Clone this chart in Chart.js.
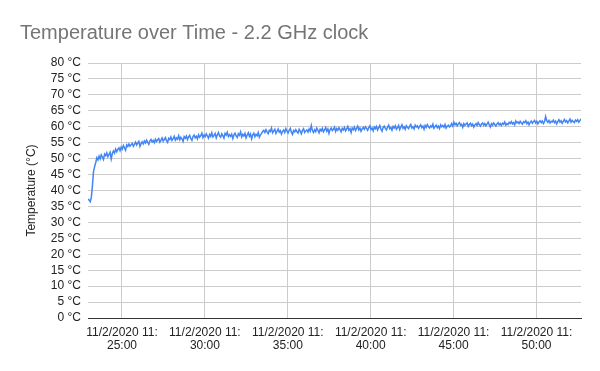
<!DOCTYPE html>
<html>
<head>
<meta charset="utf-8">
<script src="https://cdn.jsdelivr.net/npm/chart.js@4.4.0/dist/chart.umd.min.js"></script>
<style>
  html, body { margin: 0; padding: 0; background: #fff; }
</style>
</head>
<body>
<canvas id="tempChart" width="600" height="371"></canvas>
<script>
// samples: seconds past 11:00, one reading every 4 s
const startSeconds = 1377; // 11:22:57
const sampleStep = 4;
const temps = [
  37.3, 37.0, 36.5, 37.8, 41.5, 46.0, 47.5, 48.8, 50.3, 49.6,
  50.8, 49.9, 51.2, 50.5, 49.7, 51.4, 50.9, 51.8, 50.6, 51.3,
  52.0, 49.9, 51.6, 52.4, 51.7, 53.0, 52.2, 52.9, 53.4, 52.5,
  53.6, 53.0, 54.1, 53.4, 52.6, 54.3, 53.8, 54.6, 53.9, 54.4,
  54.8, 53.9, 54.5, 55.2, 54.3, 54.9, 55.4, 53.8, 54.7, 55.3,
  54.6, 55.5, 54.9, 55.8, 55.1, 54.5, 55.6, 56.0, 55.2, 55.7,
  55.0, 56.1, 55.4, 55.9, 56.3, 55.2, 55.8, 56.5, 55.5, 56.0,
  56.6, 55.6, 55.1, 56.4, 56.0, 56.8, 55.7, 56.3, 57.0, 55.8,
  56.5, 56.1, 57.2, 55.9, 56.7, 56.2, 55.4, 56.9, 56.4, 57.1,
  56.0, 56.8, 57.3, 56.3, 55.7, 56.9, 57.4, 56.5, 57.0, 56.2,
  57.5, 56.7, 57.2, 58.0, 56.6, 57.4, 56.9, 57.8, 57.1, 56.4,
  57.6, 57.0, 58.1, 56.8, 57.3, 57.9, 56.5, 57.5, 58.2, 57.1,
  56.7, 57.8, 57.2, 56.4, 57.9, 57.4, 58.3, 56.9, 57.5, 57.0,
  57.7, 56.3, 57.4, 58.0, 57.1, 56.6, 57.8, 57.3, 58.4, 56.8,
  57.6, 57.1, 57.9, 56.5, 57.4, 58.1, 57.0, 57.7, 56.2, 57.5,
  58.0, 56.9, 57.6, 57.2, 58.2, 56.7, 57.4, 57.9, 58.5, 58.9,
  58.2, 59.1, 58.4, 57.8, 58.9, 58.5, 59.6, 58.1, 58.7, 59.2,
  57.9, 58.6, 59.3, 58.3, 58.8, 57.7, 58.5, 59.0, 58.2, 59.4,
  58.6, 58.0, 58.9, 59.5, 58.3, 57.6, 58.8, 58.4, 59.1, 58.5,
  58.0, 59.2, 58.6, 57.8, 58.9, 59.4, 58.2, 58.7, 59.0, 58.3,
  59.3, 58.6, 60.4, 58.8, 58.2, 59.1, 58.5, 59.6, 58.9, 58.1,
  59.2, 58.7, 59.5, 58.4, 59.0, 59.8, 58.6, 59.3, 57.9, 59.1,
  59.6, 58.8, 59.2, 59.9, 58.5, 59.4, 58.9, 59.7, 59.1, 58.4,
  59.5, 59.0, 59.8, 58.7, 59.3, 60.1, 58.9, 59.4, 58.2, 59.6,
  59.1, 59.9, 58.8, 59.5, 60.2, 59.0, 59.6, 58.6, 59.3, 59.8,
  59.2, 60.0, 59.5, 58.9, 59.7, 60.3, 59.1, 59.6, 58.7, 59.9,
  59.4, 60.1, 59.0, 59.7, 60.4, 59.3, 58.6, 59.8, 60.2, 59.5,
  59.0, 59.9, 60.5, 59.4, 59.8, 58.9, 60.1, 59.6, 60.3, 59.2,
  59.7, 60.4, 59.1, 59.9, 60.6, 59.5, 60.0, 59.2, 60.3, 59.8,
  59.4, 60.2, 60.7, 59.6, 60.0, 59.3, 60.5, 59.9, 60.3, 59.5,
  60.1, 60.6, 59.7, 60.2, 59.2, 60.4, 59.8, 60.7, 60.0, 59.6,
  60.3, 59.9, 60.8, 59.5, 60.1, 60.5, 59.7, 60.2, 59.4, 60.6,
  60.0, 60.4, 59.8, 60.7, 59.6, 60.2, 60.5, 59.9, 60.3, 61.0,
  60.2, 61.4, 60.6, 61.1, 60.3, 60.9, 61.3, 60.5, 60.8, 59.8,
  61.0, 60.4, 60.9, 61.2, 60.1, 60.7, 61.1, 60.3, 60.8, 59.9,
  60.6, 61.0, 60.4, 61.3, 60.7, 60.2, 60.9, 61.2, 60.5, 61.0,
  60.3, 60.8, 61.4, 60.6, 59.9, 61.0, 60.5, 61.2, 60.7, 60.2,
  60.9, 61.3, 60.6, 61.0, 60.4, 61.1, 60.8, 61.5, 60.5, 61.0,
  60.7, 61.4, 61.0, 61.6, 60.9, 61.3, 60.6, 61.8, 61.2, 61.5,
  61.0, 61.7, 61.2, 60.8, 61.6, 61.3, 61.9, 61.0, 61.5, 60.6,
  61.4, 61.8, 61.1, 61.6, 62.0, 61.2, 61.7, 60.9, 61.5, 61.9,
  61.3, 61.8, 61.0, 61.6, 63.2, 61.9, 61.4, 62.0, 61.2, 61.7,
  61.5, 62.1, 61.3, 61.8, 60.9, 61.6, 62.2, 61.4, 61.9, 61.1,
  61.7, 62.3, 61.5, 61.9, 61.2, 61.8, 62.4, 61.4, 62.0, 61.6,
  61.3, 62.1, 61.7, 62.2, 61.4, 61.9, 62.5
];

// x ticks (seconds past 11:00) and their labels
const xTicks = [1500, 1800, 2100, 2400, 2700, 3000];
const xTickLabels = [
  ['11/2/2020 11:', '25:00'],
  ['11/2/2020 11:', '30:00'],
  ['11/2/2020 11:', '35:00'],
  ['11/2/2020 11:', '40:00'],
  ['11/2/2020 11:', '45:00'],
  ['11/2/2020 11:', '50:00']
];

const points = temps.map((t, i) => ({ x: startSeconds + i * sampleStep, y: t }));
const fontFamily = '"Liberation Sans", Arial, sans-serif';

new Chart(document.getElementById('tempChart'), {
  type: 'line',
  data: {
    datasets: [{
      label: 'Temperature',
      data: points,
      borderColor: '#4285F4',
      borderWidth: 1.5,
      pointRadius: 0,
      tension: 0,
      fill: false
    }]
  },
  options: {
    responsive: false,
    animation: false,
    layout: {
      padding: { left: 20, right: 19, top: 0, bottom: 0 }
    },
    plugins: {
      legend: { display: false },
      tooltip: { enabled: false },
      title: {
        display: true,
        text: 'Temperature over Time - 2.2 GHz clock',
        align: 'start',
        color: '#757575',
        font: { family: fontFamily, size: 20, weight: 'normal' },
        padding: { top: 21, bottom: 18 }
      }
    },
    scales: {
      x: {
        type: 'linear',
        min: startSeconds,
        max: startSeconds + (temps.length - 1) * sampleStep,
        afterBuildTicks: (scale) => {
          scale.ticks = xTicks.map(v => ({ value: v }));
        },
        afterFit: (scale) => { scale.height = 53; },
        ticks: {
          autoSkip: false,
          maxRotation: 0,
          padding: 8,
          color: '#222',
          font: { family: fontFamily, size: 12, lineHeight: 1.1 },
          callback: (value, index) => xTickLabels[index]
        },
        grid: { color: '#cccccc', drawTicks: false },
        border: { color: '#333333', width: 1 }
      },
      y: {
        min: 0,
        max: 80,
        afterFit: (scale) => { scale.width = 68; },
        ticks: {
          stepSize: 5,
          autoSkip: false,
          padding: 7,
          color: '#222',
          font: { family: fontFamily, size: 12 },
          callback: (value) => value + ' °C'
        },
        grid: {
          color: (ctx) => ctx.tick && ctx.tick.value === 0 ? '#333333' : '#cccccc',
          drawTicks: false
        },
        border: { display: false },
        title: {
          display: true,
          text: 'Temperature (°C)',
          color: '#222',
          font: { family: fontFamily, size: 12 }
        }
      }
    }
  }
});
</script>
</body>
</html>
